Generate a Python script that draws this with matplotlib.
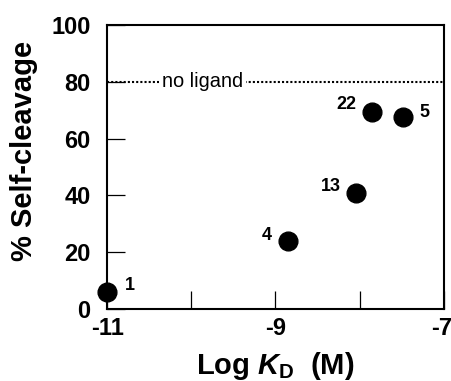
import matplotlib
matplotlib.use("Agg")
import matplotlib.pyplot as plt
import matplotlib.transforms as mtransforms

plt.rcParams['font.family'] = ['Liberation Sans', 'DejaVu Sans']
plt.rcParams['mathtext.fontset'] = 'custom'
plt.rcParams['mathtext.it'] = 'Liberation Sans:bold:italic'
plt.rcParams['mathtext.rm'] = 'Liberation Sans:bold'
plt.rcParams['mathtext.bf'] = 'Liberation Sans:bold'

labels = ['1', '4', '13', '22', '5']
log_kd = [-11.0, -8.85, -8.04, -7.85, -7.48]
cleavage = [6, 24, 41, 69.5, 67.5]
no_ligand = 80
xticks = [-11, -10, -9, -8, -7]
xticklabels = ['-11', '', '-9', '', '-7']
yticks = [0, 20, 40, 60, 80, 100]

fig = plt.figure(figsize=(4.52, 3.81), dpi=100)
ax = fig.add_axes([0.237, 0.189, 0.745, 0.745])
ax.set_xlim(-11, -7)
ax.set_ylim(0, 100)

ax.plot([-11, -7], [no_ligand, no_ligand], ls=(0, (1.0, 1.0)), color='black', lw=1.5, clip_on=False)
ax.text(-10.35, no_ligand, 'no ligand', ha='left', va='center', fontsize=14.4,
        bbox=dict(facecolor='white', edgecolor='none', pad=2))

ax.plot(log_kd, cleavage, 'o', color='black', markersize=13.5, clip_on=False, zorder=5)

offsets = {'1': (13, 5, 'left'), '4': (-12, 4, 'right'), '13': (-11, 4.5, 'right'),
           '22': (-11.5, 5.5, 'right'), '5': (11.5, 3.5, 'left')}
for lab, x, y in zip(labels, log_kd, cleavage):
    dx, dy, ha = offsets[lab]
    ax.annotate(lab, (x, y), xytext=(dx, dy), textcoords='offset points',
                ha=ha, va='center', fontsize=13, fontweight='bold')

ax.set_xticks(xticks)
ax.set_xticklabels(xticklabels)
ax.set_yticks(yticks)
ax.tick_params(direction='in', length=13, width=0.9, labelsize=17)
ax.tick_params(axis='x', pad=6)
ax.tick_params(axis='y', pad=12)
for t in ax.get_xticklabels() + ax.get_yticklabels():
    t.set_fontweight('bold')
last = ax.get_xticklabels()[-1]
last.set_transform(last.get_transform() + mtransforms.ScaledTranslation(-2.5 / 100, 0, fig.dpi_scale_trans))
for s in ax.spines.values():
    s.set_linewidth(1.5)

ax.set_xlabel(r'Log $\mathit{K}_{\mathrm{D}}$  (M)', fontsize=21, fontweight='bold')
ax.xaxis.set_label_coords(0.5, -0.146)
ax.set_ylabel('% Self-cleavage', fontsize=21, fontweight='bold')
ax.yaxis.set_label_coords(-0.205, 0.558)

fig.savefig('out.png', dpi=100)
